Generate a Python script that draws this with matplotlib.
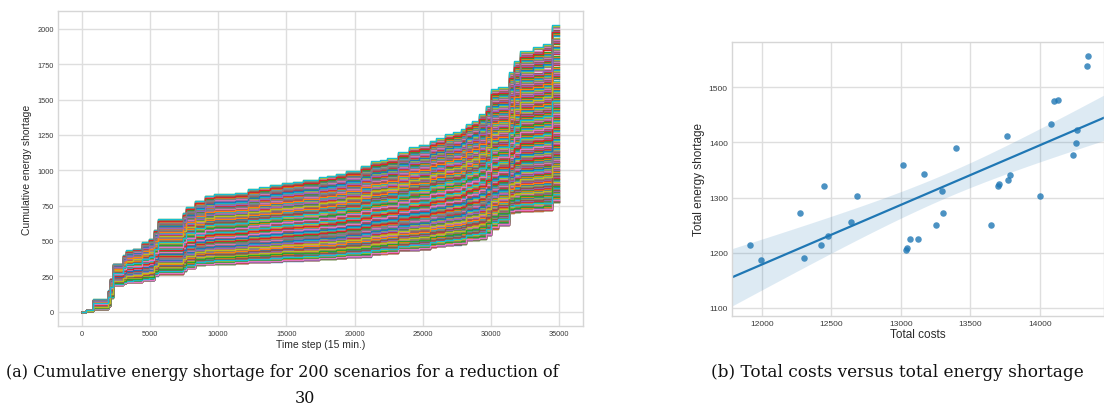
import numpy as np
import matplotlib
matplotlib.use("Agg")
import matplotlib.pyplot as plt

# ---------------- Left panel data ----------------
# break-point times of the step curves and the upper / lower envelope values
step_times = [0, 300, 850, 1900, 2050, 2300, 3050, 3200, 3750, 4400, 4900, 5300,
              5600, 7400, 7650, 8300, 9000, 9700, 11200, 12200, 13000, 13800,
              14700, 15500, 16200, 17400, 18000, 18600, 19400, 20500, 21200,
              21850, 22400, 23200, 24000, 24700, 25500, 26000, 26600, 27200,
              27800, 28200, 28600, 29100, 29600, 30000, 30500, 31300, 31700,
              32100, 33100, 33800, 34500, 35000]
upper_curve = [0, 14, 87, 150, 233, 339, 400, 433, 445, 492, 515, 580,
               657, 700, 740, 786, 821, 833, 840, 868, 880, 897,
               911, 920, 932, 951, 960, 975, 998, 1033, 1062,
               1070, 1085, 1128, 1165, 1180, 1210, 1225, 1257, 1270,
               1290, 1328, 1350, 1398, 1457, 1575, 1587, 1693, 1775,
               1845, 1869, 1893, 2027, 2027]
lower_curve = [0, 4, 21, 40, 100, 190, 200, 210, 210, 221, 221, 256,
               268, 290, 308, 332, 335, 339, 345, 351, 351, 355,
               362, 362, 365, 374, 374, 378, 386, 390, 405,
               410, 415, 433, 435, 440, 457, 462, 470, 475,
               480, 504, 508, 515, 539, 586, 610, 700, 705,
               710, 713, 716, 775, 775]
n_scenarios = 200
x_ticks_left = [0, 5000, 10000, 15000, 20000, 25000, 30000, 35000]
y_ticks_left = [0, 250, 500, 750, 1000, 1250, 1500, 1750, 2000]

# ---------------- Right panel data ----------------
total_costs = [11914, 11993, 12276, 12300, 12427, 12447, 12478, 12641, 12684,
               13011, 13035, 13042, 13064, 13121, 13167, 13253, 13294, 13301,
               13393, 13645, 13700, 13707, 13762, 13767, 13782, 13998, 14082,
               14101, 14127, 14240, 14257, 14269, 14341, 14348]
total_shortage = [1214, 1187, 1271, 1190, 1214, 1321, 1230, 1255, 1303,
                  1359, 1204, 1208, 1225, 1224, 1343, 1250, 1312, 1272,
                  1390, 1250, 1320, 1325, 1411, 1331, 1341, 1303, 1434,
                  1476, 1477, 1378, 1399, 1422, 1539, 1557]
x_ticks_right = [12000, 12500, 13000, 13500, 14000]
y_ticks_right = [1100, 1200, 1300, 1400, 1500]

# ---------------- Styling ----------------
plt.rcParams['font.family'] = ['Liberation Sans', 'DejaVu Sans']
grid_c = '#dedede'
tick_c = '#3a3a3a'
tab10 = plt.get_cmap('tab10').colors

fig = plt.figure(figsize=(11.04, 4.14), dpi=100)
ax1 = fig.add_axes([58 / 1104, 1 - 327 / 414, 525 / 1104, 315 / 414])
ax2 = fig.add_axes([732 / 1104, 1 - 316.7 / 414, 372 / 1104, 273.4 / 414])

for ax in (ax1, ax2):
    ax.set_facecolor('white')
    ax.grid(True, color=grid_c, linewidth=1.0)
    ax.set_axisbelow(True)
    for s in ax.spines.values():
        s.set_color('#d6d6d6')
        s.set_linewidth(1.0)
    ax.tick_params(length=0, colors=tick_c)

# Left: 200 scenario step curves between the read envelopes
t = np.array(step_times, dtype=float)
lo = np.array(lower_curve, dtype=float)
hi = np.array(upper_curve, dtype=float)
frac = (np.arange(n_scenarios) / (n_scenarios - 1)) ** 1.3
order = [(k * 71) % n_scenarios for k in range(n_scenarios)]
for i, k in enumerate(order):
    vals = lo + frac[k] * (hi - lo)
    ax1.plot(t, vals, drawstyle='steps-post', color=tab10[i % 10], lw=1.0)

ax1.set_xlim(-1750, 36750)
ax1.set_ylim(-101, 2126)
ax1.set_xticks(x_ticks_left)
ax1.set_yticks(y_ticks_left)
ax1.tick_params(labelsize=5.3, pad=3)
ax1.set_xlabel('Time step (15 min.)', fontsize=7.5, color='#2a2a2a', labelpad=1)
ax1.set_ylabel('Cumulative energy shortage', fontsize=7.5, color='#2a2a2a', labelpad=4)

# Right: scatter + linear regression with 95% CI band
xc = np.array(total_costs, dtype=float)
yc = np.array(total_shortage, dtype=float)
xlim2 = (11784, 14461)
slope, icpt = np.polyfit(xc, yc, 1)
xs = np.linspace(xlim2[0], xlim2[1], 200)
yhat = icpt + slope * xs
resid = yc - (icpt + slope * xc)
n = len(xc)
s_err = np.sqrt(np.sum(resid ** 2) / (n - 2))
sxx = np.sum((xc - xc.mean()) ** 2)
half = 2.037 * s_err * np.sqrt(1.0 / n + (xs - xc.mean()) ** 2 / sxx)
blue = '#1f77b4'
ax2.fill_between(xs, yhat - half, yhat + half, color=blue, alpha=0.15, lw=0)
ax2.plot(xs, yhat, color=blue, lw=1.6)
ax2.scatter(xc, yc, s=22, color=blue, alpha=0.8, lw=0, zorder=3)
ax2.set_xlim(*xlim2)
ax2.set_ylim(1085.5, 1581.7)
ax2.set_xticks(x_ticks_right)
ax2.set_yticks(y_ticks_right)
ax2.tick_params(labelsize=6.0, pad=3)
ax2.set_xlabel('Total costs', fontsize=8.5, color='#2a2a2a', labelpad=1)
ax2.set_ylabel('Total energy shortage', fontsize=8.5, color='#2a2a2a', labelpad=3)

# Captions
cap_a = dict(family=['DejaVu Serif'], fontsize=11.5, color='#111111')
cap_b = dict(family=['DejaVu Serif'], fontsize=12.2, color='#111111')
fig.text(6 / 1104, 1 - 377 / 414,
         '(a) Cumulative energy shortage for 200 scenarios for a reduction of',
         ha='left', va='baseline', **cap_a)
fig.text(305 / 1104, 1 - 403 / 414, '30', ha='center', va='baseline', **cap_a)
fig.text(897 / 1104, 1 - 377 / 414, '(b) Total costs versus total energy shortage',
         ha='center', va='baseline', **cap_b)

fig.savefig('out.png', dpi=100, facecolor='white')
